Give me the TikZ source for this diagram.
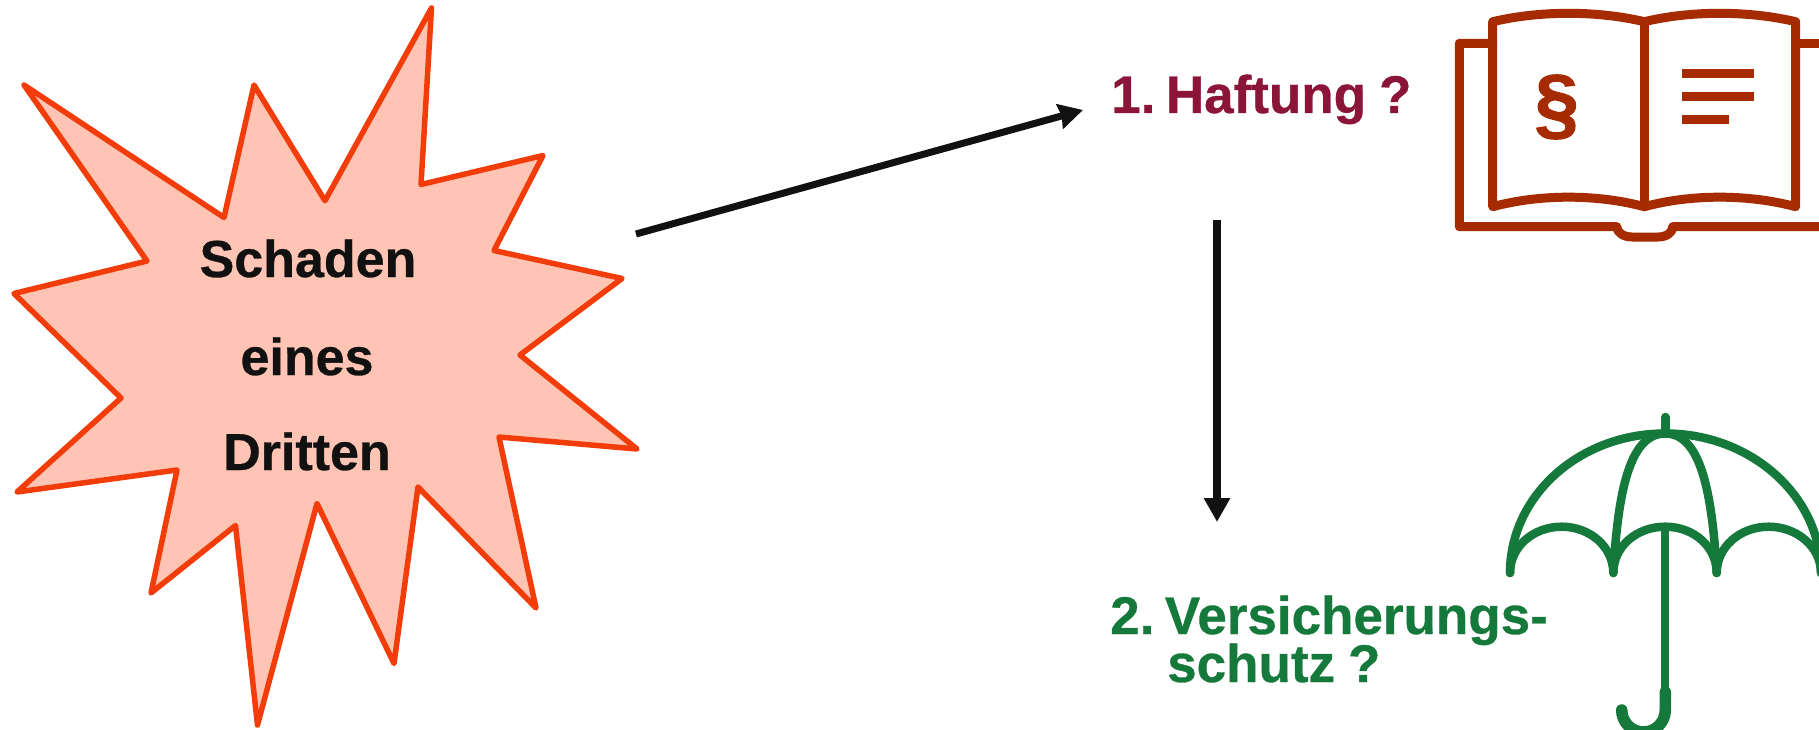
\documentclass[tikz,border=0pt]{standalone}
\usepackage{fontspec}
\setmainfont[BoldFeatures={FakeBold=0.6}]{Liberation Sans}
\newfontface\parafont[FakeBold=1.2]{Liberation Sans Bold}
\definecolor{starfill}{HTML}{FFC4B3}
\definecolor{starline}{HTML}{F23D0A}
\definecolor{maroon}{HTML}{8B1538}
\definecolor{umbgreen}{HTML}{16793C}
\definecolor{rust}{HTML}{A62B00}
\definecolor{ink}{HTML}{111111}
\usetikzlibrary{arrows.meta}
\tikzset{
  startext/.style={text=ink,inner sep=0pt,font=\fontsize{52}{60}\selectfont\bfseries,anchor=base},
  headtext/.style={inner sep=0pt,font=\fontsize{53}{60}\selectfont\bfseries,anchor=base west},
  conn/.style={draw=ink},
  bookline/.style={draw=rust,line width=9pt,line join=round,line cap=round},
  umbline/.style={draw=umbgreen,line width=8.5pt,line join=round,line cap=round},
}
\begin{document}
\begin{tikzpicture}[x=1pt,y=-1pt]
\useasboundingbox (0,0) rectangle (1819,730);
\clip (0,0) rectangle (1819,730);
% star
\draw[fill=starfill,draw=starline,line width=5.5pt,line join=round]
 (431.5,8)--(421,184.5)--(543,155.5)--(494,250.5)--(622,278.5)--(520,355)--(637,449)--(499,437)--(536,608)--(418,487)--(394,663.5)--(317,503.5)--(257.5,725)--(235.5,525.5)--(151,593)--(177,470)--(17,492)--(121,398)--(14,293.5)--(147,261)--(24,85)--(224,217.5)--(254,85)--(325,200.7)--cycle;
\node[startext] (t1) at (308,277) {Schaden};
\node[startext] (t2) at (307,375) {eines};
\node[startext] (t3) at (307,470) {Dritten};
% labels
\node[headtext,text=maroon] (haft) at (1111,113) {1.\hspace{10.5pt}Haftung\hspace{13pt}?};
\node[headtext,text=umbgreen] (vers) at (1110,634) {2.\hspace{10.5pt}Versicherungs-};
\node[headtext,text=umbgreen] (schutz) at (1167,682) {schutz\hspace{13pt}?};
% arrows
\coordinate (a1s) at (636,234);
\coordinate (a1e) at (1083,110);
\coordinate (a2s) at (1217,220);
\coordinate (a2e) at (1217,522);
\draw[conn,line width=7pt,-{Stealth[length=24pt,width=25pt,inset=2pt]}] (a1s) -- (a1e);
\draw[conn,line width=8pt,-{Stealth[length=24pt,width=25pt,inset=0pt]}] (a2s) -- (a2e);
% book
\draw[bookline] (1492.7,43.3) -- (1459.3,43.3) -- (1459.3,226.7) -- (1616.7,226.7)
  .. controls (1617,233) and (1624,237) .. (1632,237) -- (1658,237)
  .. controls (1666,237) and (1672.7,233) .. (1672.7,226.7) -- (1825,226.7);
\draw[bookline] (1795.7,43.3) -- (1825,43.3);
\draw[bookline] (1492.7,21.7) .. controls (1540,10.5) and (1597,10.5) .. (1644.3,21.7)
  .. controls (1691,10.5) and (1748,10.5) .. (1795.7,21.7) -- (1795.7,206.7)
  .. controls (1748,194) and (1691,194) .. (1644.3,206.7)
  .. controls (1597,194) and (1540,194) .. (1492.7,206.7) -- cycle;
\draw[bookline] (1644.3,21.7) -- (1644.3,206.7);
\node[inner sep=0pt,text=rust,font=\fontsize{80}{80}\parafont] (para) at (1556.7,107) {§};
\draw[bookline,line cap=butt] (1682,74) -- (1754,74);
\draw[bookline,line cap=butt] (1682,96.7) -- (1754,96.7);
\draw[bookline,line cap=butt] (1682,119.7) -- (1729.3,119.7);
% umbrella
\draw[umbline] (1665.3,417) -- (1665.3,433);
\draw[umbline] (1510,573) .. controls (1510,496) and (1579,433.5) .. (1665.3,433.5)
  .. controls (1751,433.5) and (1821,496) .. (1821,573);
\draw[umbline] (1510,573) .. controls (1510,547) and (1533,526.7) .. (1561.7,526.7)
  .. controls (1590,526.7) and (1613.3,547) .. (1613.3,573)
  .. controls (1613.3,547) and (1636,526.7) .. (1665.3,526.7)
  .. controls (1694,526.7) and (1716.7,547) .. (1716.7,573)
  .. controls (1716.7,547) and (1740,526.7) .. (1768.7,526.7)
  .. controls (1797,526.7) and (1821,547) .. (1821,573);
\draw[umbline] (1613.3,573) .. controls (1618,490) and (1630,433.5) .. (1665.3,433.5)
  .. controls (1700,433.5) and (1712,490) .. (1716.7,573);
\draw[draw=umbgreen,line width=8pt] (1665.3,526.7) -- (1665.3,695);
\draw[draw=umbgreen,line width=11.5pt,line cap=round] (1665.3,692) -- (1665.3,710)
  arc[start angle=0,end angle=180,x radius=21.8,y radius=22];
\end{tikzpicture}
\end{document}
